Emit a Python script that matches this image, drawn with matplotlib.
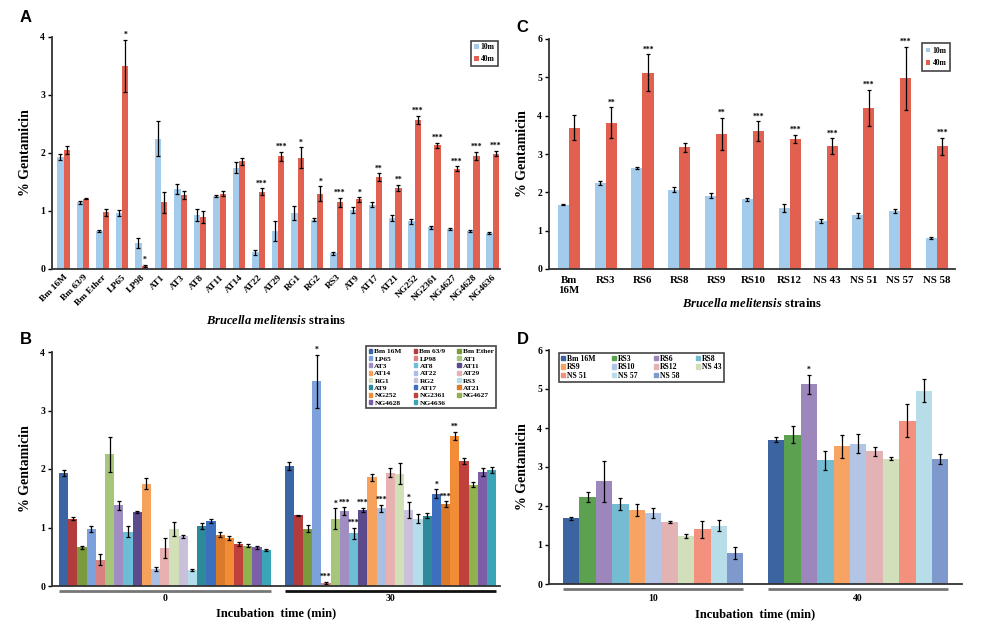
import matplotlib
matplotlib.use("Agg")
import matplotlib.pyplot as plt
import matplotlib.transforms as mtransforms
from matplotlib.patches import Patch
import numpy as np

plt.rcParams['font.family'] = ['Liberation Serif', 'DejaVu Serif']
plt.rcParams['font.weight'] = 'bold'
plt.rcParams['mathtext.fontset'] = 'custom'
plt.rcParams['mathtext.it'] = 'Liberation Serif:italic:bold'
plt.rcParams['mathtext.rm'] = 'Liberation Serif:bold'

# ---------------- Data: panels A / B ----------------
strains_ab = ["Bm 16M", "Bm 63/9", "Bm Ether", "LP65", "LP98", "AT1", "AT3", "AT8",
              "AT11", "AT14", "AT22", "AT29", "RG1", "RG2", "RS3", "AT9", "AT17",
              "AT21", "NG252", "NG2361", "NG4627", "NG4628", "NG4636"]
a_10m = [1.93, 1.15, 0.66, 0.97, 0.45, 2.25, 1.38, 0.93, 1.26, 1.75, 0.29, 0.65,
         0.97, 0.85, 0.27, 1.02, 1.11, 0.88, 0.82, 0.72, 0.69, 0.66, 0.62]
a_10m_err = [0.05, 0.03, 0.02, 0.05, 0.09, 0.30, 0.08, 0.10, 0.02, 0.10, 0.04, 0.17,
             0.12, 0.03, 0.02, 0.05, 0.04, 0.05, 0.04, 0.03, 0.02, 0.02, 0.02]
a_40m = [2.05, 1.21, 0.98, 3.50, 0.05, 1.15, 1.28, 0.90, 1.30, 1.86, 1.33, 1.94,
         1.92, 1.30, 1.15, 1.20, 1.58, 1.40, 2.57, 2.13, 1.73, 1.95, 1.99]
a_40m_err = [0.07, 0.01, 0.06, 0.45, 0.02, 0.18, 0.07, 0.10, 0.04, 0.06, 0.06, 0.08,
             0.18, 0.13, 0.08, 0.04, 0.07, 0.05, 0.07, 0.05, 0.04, 0.07, 0.05]
a_stars = ["", "", "", "*", "*", "", "", "", "", "", "***", "***", "*", "*", "***",
           "*", "**", "**", "***", "***", "***", "***", "***"]
b_stars_30 = ["", "", "", "*", "***", "*", "***", "***", "***", "", "***", "", "",
              "*", "", "", "*", "***", "**", "", "", "", ""]
b_colors = ["#3A64A3", "#B23B3B", "#7B9A3C", "#7DA1DA", "#D98080", "#A6C77A",
            "#A08DC2", "#6CBDD6", "#5B4A8C", "#F6A25C", "#A9C0E4", "#E6B1B0",
            "#D2E0B8", "#C9C0DB", "#B3DDEA", "#2D8A9B", "#3C70BF", "#DB7A2A",
            "#F28C36", "#C0403E", "#8FB24E", "#7B5EA7", "#39A5B7"]
b_groups = ["0", "30"]

# ---------------- Data: panels C / D ----------------
strains_cd = ["Bm 16M", "RS3", "RS6", "RS8", "RS9", "RS10", "RS12", "NS 43",
              "NS 51", "NS 57", "NS 58"]
c_ticklabels = ["Bm\n16M", "RS3", "RS6", "RS8", "RS9", "RS10", "RS12", "NS 43",
                "NS 51", "NS 57", "NS 58"]
c_10m = [1.68, 2.24, 2.63, 2.07, 1.91, 1.82, 1.59, 1.25, 1.40, 1.51, 0.80]
c_10m_err = [0.02, 0.05, 0.03, 0.07, 0.07, 0.04, 0.10, 0.05, 0.07, 0.06, 0.03]
c_40m = [3.69, 3.82, 5.12, 3.17, 3.52, 3.60, 3.40, 3.21, 4.20, 4.97, 3.20]
c_40m_err = [0.33, 0.40, 0.48, 0.13, 0.42, 0.25, 0.10, 0.20, 0.47, 0.83, 0.22]
c_stars = ["", "**", "***", "", "**", "***", "***", "***", "***", "***", "***"]
d_10 = [1.68, 2.23, 2.63, 2.06, 1.90, 1.82, 1.59, 1.24, 1.40, 1.50, 0.80]
d_10_err = [0.03, 0.12, 0.53, 0.15, 0.15, 0.13, 0.03, 0.05, 0.22, 0.15, 0.16]
d_40 = [3.70, 3.83, 5.12, 3.17, 3.53, 3.60, 3.40, 3.21, 4.19, 4.96, 3.20]
d_40_err = [0.07, 0.22, 0.24, 0.25, 0.29, 0.25, 0.12, 0.04, 0.42, 0.30, 0.13]
d_stars_40 = ["", "", "*", "", "", "", "", "", "", "", ""]
d_colors = ["#3B64A0", "#5BA150", "#9C86BB", "#75BBD2", "#F7A363", "#B2C5E4",
            "#E2B2B4", "#D1DFBA", "#F4907E", "#B7DDE9", "#7F99CD"]
d_groups = ["10", "40"]

col_10m = "#A3CBEC"
col_40m = "#E1604F"

W, H = 986, 624
fig = plt.figure(figsize=(W / 100, H / 100), dpi=100)


def ax_px(l, r, t, b):
    return fig.add_axes([l / W, 1 - b / H, (r - l) / W, (b - t) / H])


def style(ax, ymax):
    for s in ["top", "right"]:
        ax.spines[s].set_visible(False)
    for s in ["left", "bottom"]:
        ax.spines[s].set_color("#333333")
        ax.spines[s].set_linewidth(1.3)
    ax.set_ylim(0, ymax)
    ax.set_yticks(range(0, ymax + 1))
    ax.tick_params(axis="y", labelsize=7, length=3, width=1, pad=2)
    ax.tick_params(axis="x", length=0)
    for lab in ax.get_yticklabels():
        lab.set_fontweight("bold")


def stars(ax, xs, tops, labels):
    for x, t, s in zip(xs, tops, labels):
        if s:
            ax.annotate(s, (x, t), xytext=(0, 0.5), textcoords="offset points",
                        ha="center", va="bottom", fontsize=5.5, fontweight="bold")


ekw = dict(ecolor="black", elinewidth=0.9, capsize=1.5, capthick=0.9)
YL = dict(fontsize=10, fontweight="bold", labelpad=6)

# ---------------- Panel A ----------------
axA = ax_px(52, 500, 37, 269)
style(axA, 4)
x = np.arange(len(strains_ab))
bw = 0.33
axA.bar(x - bw / 2, a_10m, bw, yerr=a_10m_err, color=col_10m, error_kw=ekw, label="10m")
axA.bar(x + bw / 2, a_40m, bw, yerr=a_40m_err, color=col_40m, error_kw=ekw, label="40m")
stars(axA, x + bw / 2, np.array(a_40m) + np.array(a_40m_err), a_stars)
axA.set_xlim(-0.59, 22.38)
axA.set_xticks(x)
axA.set_xticklabels(strains_ab, rotation=45, ha="right", rotation_mode="anchor",
                    fontsize=6.8, fontweight="bold")
axA.tick_params(axis="x", pad=3)
axA.set_ylabel("% Gentamicin", **YL)
axA.text(0.5, -0.22, r"$\mathit{Brucella\ melitensis}$ strains", transform=axA.transAxes,
         ha="center", va="center", fontsize=9, fontweight="bold")
legA = axA.legend(loc="upper right", bbox_to_anchor=(1.003, 1.0), fontsize=5.5,
                  handlelength=0.6, handleheight=0.6, handletextpad=0.3,
                  borderpad=0.35, labelspacing=0.45, fancybox=False, framealpha=1)
legA.get_frame().set_edgecolor("#444444")
legA.get_frame().set_linewidth(1.2)

# ---------------- Panel C ----------------
axC = ax_px(549, 955, 39, 269)
style(axC, 6)
xc = np.arange(len(strains_cd))
bwc = 0.3
axC.bar(xc - bwc / 2, c_10m, bwc, yerr=c_10m_err, color=col_10m, error_kw=ekw, label="10m")
axC.bar(xc + bwc / 2, c_40m, bwc, yerr=c_40m_err, color=col_40m, error_kw=ekw, label="40m")
stars(axC, xc + bwc / 2, np.array(c_40m) + np.array(c_40m_err), c_stars)
axC.set_xlim(-0.54, 10.49)
axC.set_xticks(xc)
axC.set_xticklabels(c_ticklabels, fontsize=7.8, fontweight="bold", va="top",
                    linespacing=1.1)
axC.tick_params(axis="x", pad=5)
axC.set_ylabel("% Gentamicin", **YL)
axC.text(0.5, -0.148, r"$\mathit{Brucella\ melitensis}$ strains", transform=axC.transAxes,
         ha="center", va="center", fontsize=9, fontweight="bold")
legC = axC.legend(loc="upper right", bbox_to_anchor=(0.998, 1.0), fontsize=5.5,
                  handlelength=0.6, handleheight=0.6, handletextpad=0.3,
                  borderpad=0.5, labelspacing=0.6, fancybox=False, framealpha=1)
legC.get_frame().set_edgecolor("#444444")
legC.get_frame().set_linewidth(1.2)

# ---------------- Panel B ----------------
axB = ax_px(52, 500, 352, 586)
style(axB, 4)
n = len(strains_ab)
off_b = 24.5
for i in range(n):
    xs = [i, i + off_b]
    axB.bar(xs, [a_10m[i], a_40m[i]], 1.0, yerr=[a_10m_err[i], a_40m_err[i]],
            color=b_colors[i], error_kw=ekw, label=strains_ab[i])
stars(axB, np.arange(n) + off_b, np.array(a_40m) + np.array(a_40m_err), b_stars_30)
axB.set_xlim(-1.26, 47.4)
axB.set_xticks([])
trB = mtransforms.blended_transform_factory(axB.transData, axB.transAxes)
for (x0, x1, lab, c) in [(-0.5, n - 0.5, b_groups[0], "#777777"),
                         (off_b - 0.5, off_b + n - 0.5, b_groups[1], "#111111")]:
    axB.plot([x0, x1], [-0.022, -0.022], transform=trB, color=c, lw=2, clip_on=False,
             solid_capstyle="butt")
    axB.text((x0 + x1) / 2, -0.052, lab, transform=trB, ha="center", va="center",
             fontsize=7, fontweight="bold")
axB.text(0.5, -0.115, "Incubation  time (min)", transform=axB.transAxes, ha="center",
         va="center", fontsize=9, fontweight="bold")
axB.set_ylabel("% Gentamicin", **YL)
order = list(range(0, n, 3)) + list(range(1, n, 3)) + list(range(2, n, 3))
legB = axB.legend([Patch(color=b_colors[i]) for i in order], [strains_ab[i] for i in order],
                  ncol=3, loc="upper right", bbox_to_anchor=(1.0, 1.04), fontsize=5.3,
                  handlelength=0.5, handleheight=0.5, handletextpad=0.3,
                  borderpad=0.3, labelspacing=0.22, columnspacing=1.6,
                  fancybox=False, framealpha=1)
legB.get_frame().set_edgecolor("#444444")
legB.get_frame().set_linewidth(1.2)

# ---------------- Panel D ----------------
axD = ax_px(549, 962, 350, 584)
style(axD, 6)
m = len(strains_cd)
off_d = 12.5
for i in range(m):
    axD.bar([i, i + off_d], [d_10[i], d_40[i]], 1.0, yerr=[d_10_err[i], d_40_err[i]],
            color=d_colors[i], error_kw=ekw, label=strains_cd[i])
stars(axD, np.arange(m) + off_d, np.array(d_40) + np.array(d_40_err), d_stars_40)
axD.set_xlim(-1.35, 23.83)
axD.set_xticks([])
trD = mtransforms.blended_transform_factory(axD.transData, axD.transAxes)
for (x0, x1, lab) in [(-0.5, m - 0.5, d_groups[0]), (off_d - 0.5, off_d + m - 0.5, d_groups[1])]:
    axD.plot([x0, x1], [-0.02, -0.02], transform=trD, color="#777777", lw=2, clip_on=False,
             solid_capstyle="butt")
    axD.text((x0 + x1) / 2, -0.06, lab, transform=trD, ha="center", va="center",
             fontsize=7, fontweight="bold")
axD.text(0.5, -0.128, "Incubation  time (min)", transform=axD.transAxes, ha="center",
         va="center", fontsize=9, fontweight="bold")
axD.set_ylabel("% Gentamicin", **YL)
orderD = list(range(0, m, 4)) + list(range(1, m, 4)) + list(range(2, m, 4)) + list(range(3, m, 4))
legD = axD.legend([Patch(color=d_colors[i]) for i in orderD], [strains_cd[i] for i in orderD],
                  ncol=4, loc="upper left", bbox_to_anchor=(0.0145, 1.004), fontsize=5.6,
                  handlelength=0.5, handleheight=0.5, handletextpad=0.3,
                  borderpad=0.25, labelspacing=0.05, columnspacing=2.1,
                  fancybox=False, framealpha=1)
legD.get_frame().set_edgecolor("#444444")
legD.get_frame().set_linewidth(1.2)

# Panel letters
for (px, py, L) in [(20, 17, "A"), (20, 340, "B"), (516, 27, "C"), (517, 339, "D")]:
    fig.text(px / W, 1 - py / H, L, ha="left", va="center", fontsize=12, fontweight="bold",
             family="Liberation Sans")

fig.savefig("out.png", dpi=100)
